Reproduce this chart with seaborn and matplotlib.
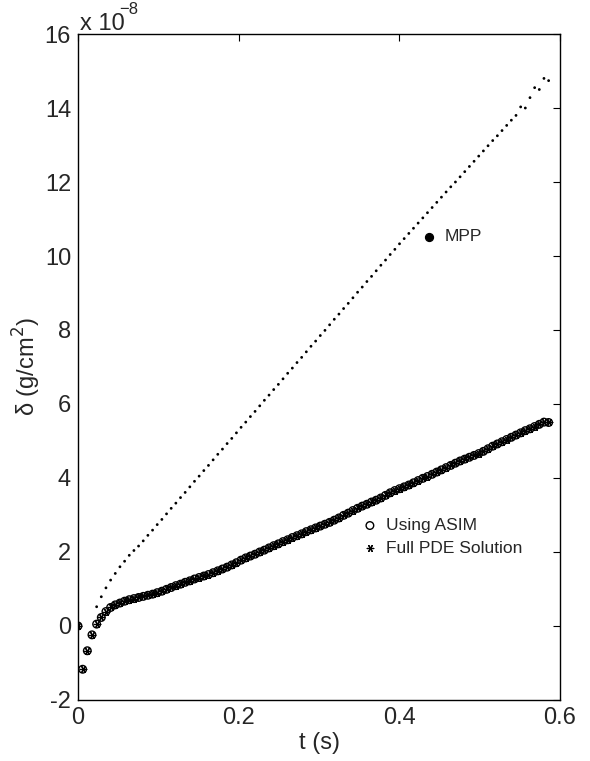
import numpy as np
import pandas as pd
import matplotlib
matplotlib.use("Agg")
import matplotlib.pyplot as plt
import seaborn as sns

# sample times (s), uniform output step
dt = 0.0058
t = np.round(np.arange(102) * dt, 4)

# delta, units of 1e-8 g/cm^2
asim = [0.00, -1.17, -0.67, -0.24, 0.05, 0.23, 0.39, 0.50, 0.57, 0.62,
        0.67, 0.71, 0.74, 0.77, 0.80, 0.83, 0.86, 0.90, 0.94, 0.99,
        1.04, 1.09, 1.13, 1.18, 1.22, 1.27, 1.31, 1.35, 1.39, 1.44,
        1.49, 1.54, 1.59, 1.65, 1.71, 1.78, 1.84, 1.89, 1.94, 2.00,
        2.05, 2.11, 2.17, 2.22, 2.28, 2.33, 2.39, 2.44, 2.49, 2.55,
        2.60, 2.65, 2.70, 2.75, 2.80, 2.86, 2.92, 2.99, 3.05, 3.12,
        3.18, 3.24, 3.29, 3.35, 3.40, 3.46, 3.53, 3.60, 3.66, 3.71,
        3.76, 3.81, 3.87, 3.93, 3.99, 4.04, 4.10, 4.16, 4.22, 4.28,
        4.34, 4.40, 4.46, 4.51, 4.56, 4.61, 4.66, 4.72, 4.79, 4.86,
        4.92, 4.98, 5.04, 5.10, 5.16, 5.22, 5.28, 5.33, 5.39, 5.45,
        5.51, 5.50]
pde = asim  # full PDE solution sits on top of the ASIM points

# MPP curve, starts at the 5th sample
mpp_start = 4
mpp = [0.52, 0.79, 1.03, 1.24, 1.42, 1.60, 1.75, 1.91, 2.04, 2.16,
       2.30, 2.45, 2.59, 2.74, 2.88, 3.03, 3.18, 3.32, 3.47, 3.61,
       3.76, 3.91, 4.05, 4.20, 4.34, 4.49, 4.64, 4.78, 4.93, 5.07,
       5.22, 5.37, 5.51, 5.66, 5.80, 5.95, 6.10, 6.24, 6.39, 6.53,
       6.68, 6.83, 6.97, 7.12, 7.26, 7.41, 7.56, 7.70, 7.85, 7.99,
       8.14, 8.29, 8.43, 8.58, 8.72, 8.87, 9.02, 9.16, 9.31, 9.45,
       9.60, 9.75, 9.89, 10.04, 10.18, 10.33, 10.47, 10.61, 10.75, 10.89,
       11.03, 11.17, 11.31, 11.45, 11.59, 11.73, 11.87, 12.00, 12.14, 12.28,
       12.42, 12.56, 12.70, 12.84, 12.98, 13.12, 13.25, 13.39, 13.53, 13.67,
       13.80, 14.03, 14.00, 14.28, 14.55, 14.50, 14.80, 14.74]

mpp_point_t = [0.437]
mpp_point_v = [10.52]

xticks = [0, 0.2, 0.4, 0.6]
yticks = [-2, 0, 2, 4, 6, 8, 10, 12, 14, 16]

df = pd.DataFrame({"t": t, "asim": asim, "pde": pde})
df_mpp = pd.DataFrame({"t": t[mpp_start:], "v": mpp})

sns.set_theme(style="white")
plt.rcParams["font.family"] = ["Liberation Sans", "DejaVu Sans"]

fig = plt.figure(figsize=(5.9, 7.61), dpi=100)
ax = fig.add_axes([0.1322, 0.0802, 0.817, 0.8751])

sns.scatterplot(data=df_mpp, x="t", y="v", ax=ax, marker="o", s=4,
                color="black", edgecolor="none", legend=False)
sns.scatterplot(data=df, x="t", y="asim", ax=ax, marker="o", s=30,
                facecolor="none", edgecolor="black", linewidth=1.0,
                label="Using ASIM")
sns.scatterplot(data=df, x="t", y="pde", ax=ax, marker=(6, 2, 90), s=22,
                color="black", linewidth=0.9, label="Full PDE Solution")
ax.scatter(mpp_point_t, mpp_point_v, s=32, color="black", zorder=3)
ax.text(0.456, mpp_point_v[0], "MPP", fontsize=12.5, va="center", ha="left")

ax.set_xlim(0, 0.6)
ax.set_ylim(-2, 16)
ax.set_xticks(xticks)
ax.set_xticklabels(["0", "0.2", "0.4", "0.6"])
ax.set_yticks(yticks)
ax.set_yticklabels([str(v) for v in yticks])
ax.tick_params(direction="in", length=5, width=0.8, labelsize=17,
               top=True, right=True, color="black", pad=5)
for sp in ax.spines.values():
    sp.set_color("black")
    sp.set_linewidth(1.0)

ax.set_xlabel("t (s)", fontsize=17, labelpad=2)
ax.set_ylabel("δ (g/cm$^2$)", fontsize=17, labelpad=1)

fig.text(80 / 590, 1 - 30 / 761, "x 10", fontsize=17, ha="left", va="baseline")
fig.text(119 / 590, 1 - 14 / 761, "\u22128", fontsize=12, ha="left", va="baseline")

leg = ax.legend(loc="upper left", bbox_to_anchor=((356 - 78) / 482, (700 - 511) / 666),
                frameon=False, fontsize=12.5, handlelength=0.8, handletextpad=0.5,
                labelspacing=0.42, borderaxespad=0)

plt.savefig("out.png", dpi=100)
